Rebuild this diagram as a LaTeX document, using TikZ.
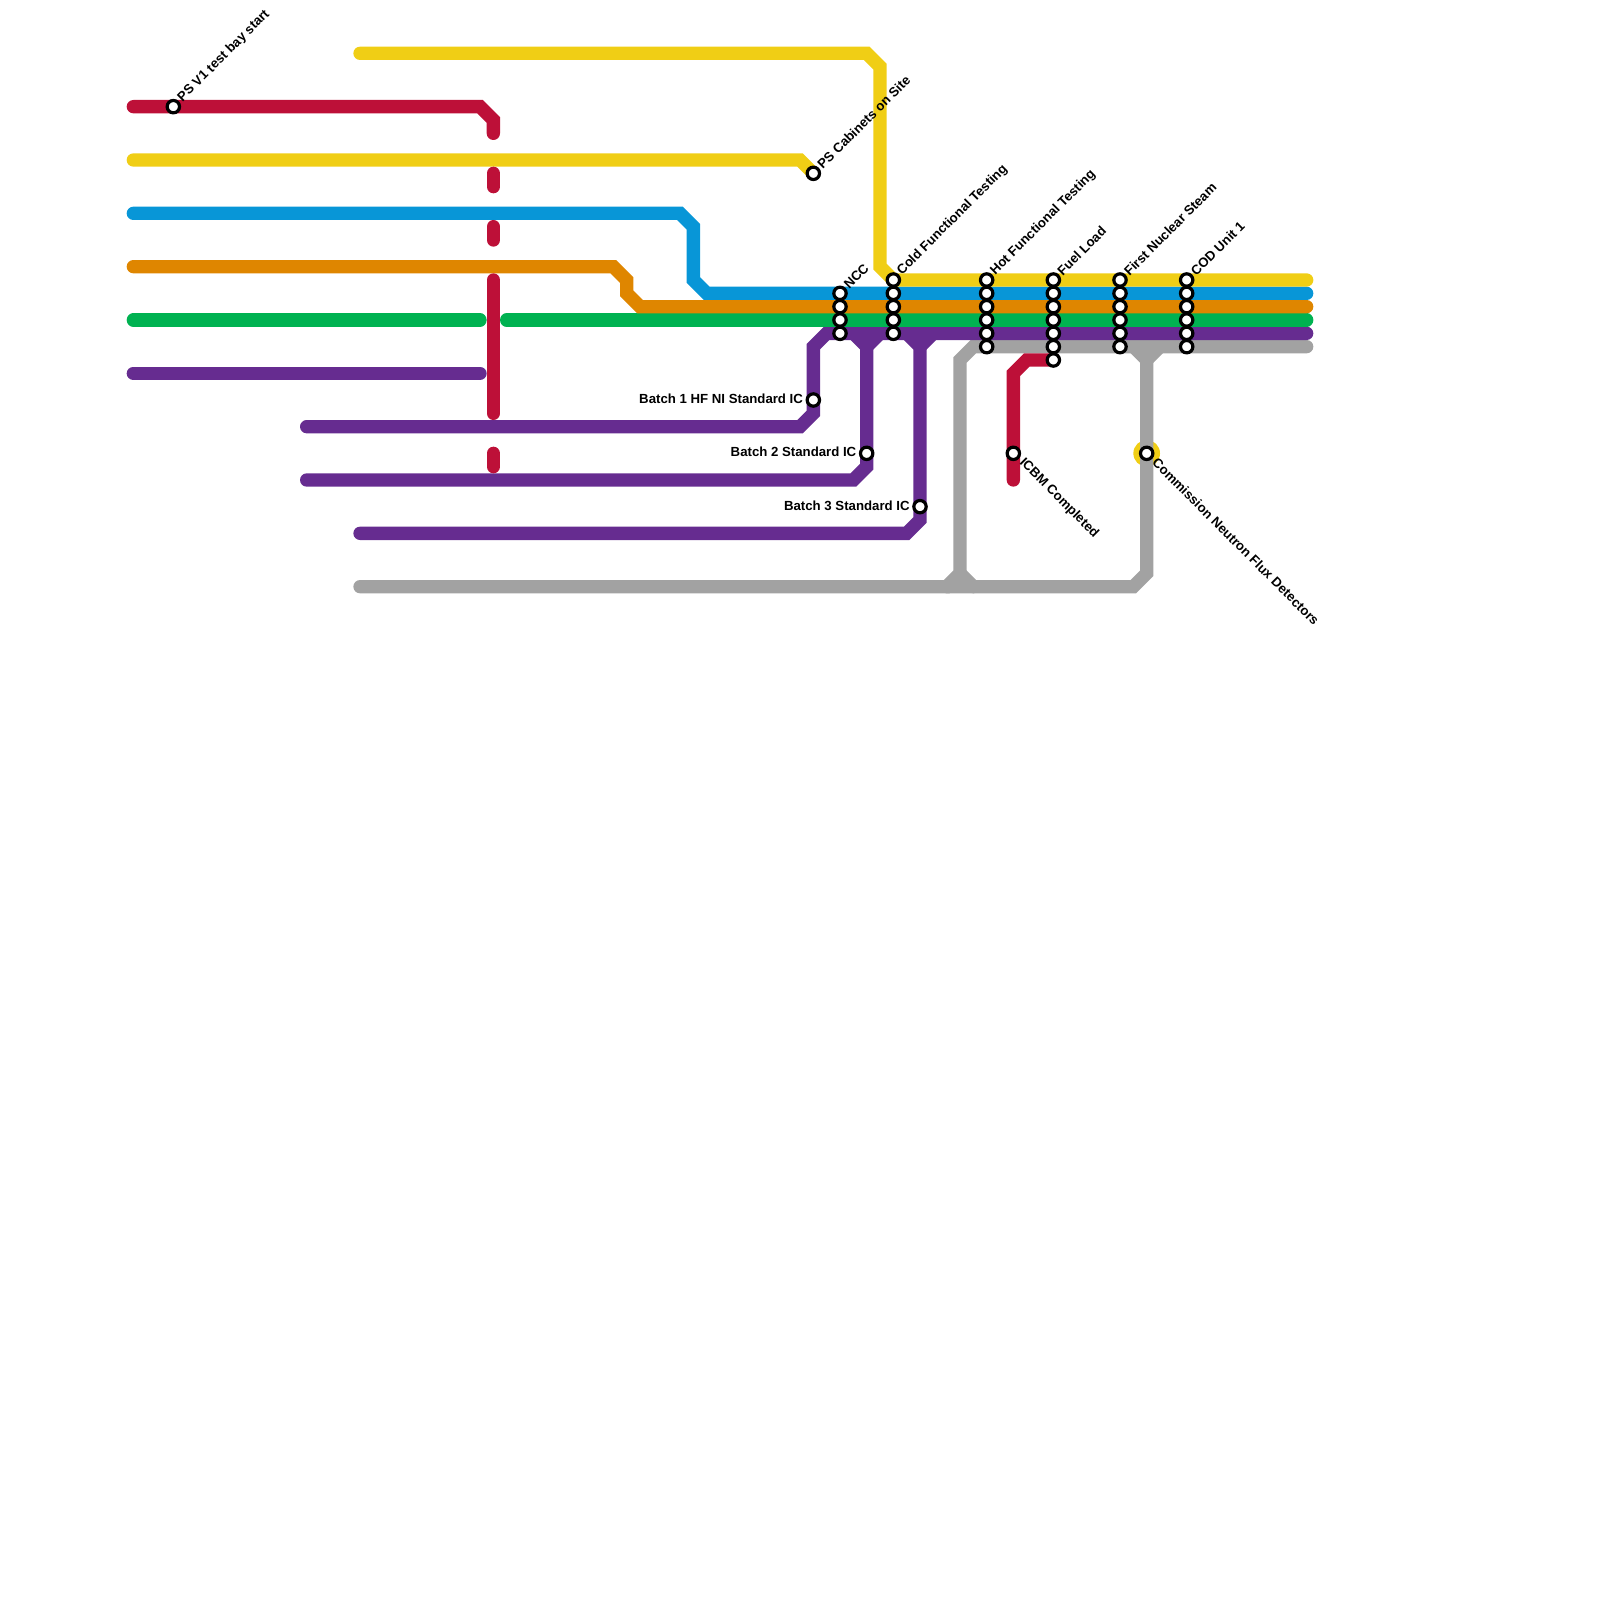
\documentclass[tikz,border=0pt]{standalone}
\usepackage{fontspec}
\setmainfont{Liberation Sans}
\usetikzlibrary{calc}
\definecolor{mred}{HTML}{BD1038}
\definecolor{myellow}{HTML}{F0CE15}
\definecolor{mblue}{HTML}{0896D7}
\definecolor{morange}{HTML}{DF8600}
\definecolor{mgreen}{HTML}{00B251}
\definecolor{mpurple}{HTML}{662C90}
\definecolor{mgray}{HTML}{A2A2A2}
\tikzset{
  route/.style={line width=0.25cm,line cap=round,line join=miter,miter limit=10},
  stn/.style={circle,draw=black,fill=white,line width=0.06cm,minimum size=0.232cm,inner sep=0pt,outer sep=0pt},
  lab/.style={font=\bfseries\fontsize{7.05}{8}\selectfont,inner sep=0pt,text=black},
  labne/.style={lab,rotate=45,anchor=west},
  labse/.style={lab,rotate=-45,anchor=west},
  labw/.style={lab,anchor=east},
}
\begin{document}
\begin{tikzpicture}[x=0.25cm,y=-0.25cm]
\useasboundingbox (0,0) rectangle (120,120);
% free ends of the routes
\coordinate (yA) at (27,4);
\coordinate (yB) at (10,12);
\coordinate (yEnd) at (98,21);
\coordinate (rA) at (10,8);
\coordinate (bA) at (10,16);
\coordinate (bEnd) at (98,22);
\coordinate (oA) at (10,20);
\coordinate (oEnd) at (98,23);
\coordinate (gA) at (10,24);
\coordinate (gB) at (36,24);
\coordinate (gC) at (38,24);
\coordinate (gEnd) at (98,24);
\coordinate (pA) at (10,28);
\coordinate (pB) at (36,28);
\coordinate (pC) at (23,32);
\coordinate (pD) at (23,36);
\coordinate (pE) at (27,40);
\coordinate (pEnd) at (98,25);
\coordinate (aA) at (27,44);
\coordinate (aEnd) at (98,26);
% stations
\foreach \n/\x/\y in {psv/13/8,psc/61/13,bat1/61/30,bat2/65/34,bat3/69/38,icbm/76/34,neut/86/34}{
  \coordinate (\n) at (\x,\y);}
\foreach \x/\n/\first/\last in {63/ncc/22/25,67/cold/21/25,74/hot/21/26,79/fuel/21/27,84/first/21/26,89/cod/21/26}{
  \foreach \y in {\first,...,\last}{\coordinate (\n\y) at (\x,\y);}}
% yellow halo on the neutron flux station
\fill[myellow] (neut) circle (1);
% grey
\draw[route,mgray] (aA) -- (71,44) -- (72,43) -- (72,27) -- (73,26) -- (aEnd);
\draw[route,mgray] (71,44) -- (85,44) -- (86,43) -- (neut) -- (86,27) -- (85,26);
\draw[route,mgray] (86,27) -- (87,26);
\draw[route,mgray] (72,43) -- (73,44);
% purple
\draw[route,mpurple] (pA) -- (pB);
\draw[route,mpurple] (pC) -- (60,32) -- (61,31) -- (bat1) -- (61,26) -- (62,25) -- (pEnd);
\draw[route,mpurple] (pD) -- (64,36) -- (65,35) -- (bat2) -- (65,26) -- (64,25);
\draw[route,mpurple] (65,26) -- (66,25);
\draw[route,mpurple] (pE) -- (68,40) -- (69,39) -- (bat3) -- (69,26) -- (68,25);
\draw[route,mpurple] (69,26) -- (70,25);
% green
\draw[route,mgreen] (gA) -- (gB);
\draw[route,mgreen] (gC) -- (gEnd);
% blue, orange, yellow
\draw[route,mblue] (bA) -- (51,16) -- (52,17) -- (52,21) -- (53,22) -- (bEnd);
\draw[route,morange] (oA) -- (46,20) -- (47,21) -- (47,22) -- (48,23) -- (oEnd);
\draw[route,myellow] (yB) -- (60,12) -- (psc);
\draw[route,myellow] (yA) -- (65,4) -- (66,5) -- (66,20) -- (67,21) -- (yEnd);
% red
\draw[route,mred] (rA) -- (36,8) -- (37,9) -- (37,10);
\draw[route,mred] (37,13) -- (37,14);
\draw[route,mred] (37,17) -- (37,18);
\draw[route,mred] (37,21) -- (37,31);
\draw[route,mred] (37,34) -- (37,35);
\draw[route,mred] (fuel27) -- (77,27) -- (76,28) -- (icbm) -- (76,36);
% station markers
\foreach \n in {psv,psc,bat1,bat2,bat3,icbm,neut}{\node[stn] (m\n) at (\n) {};}
\foreach \n/\first/\last in {ncc/22/25,cold/21/25,hot/21/26,fuel/21/27,first/21/26,cod/21/26}{
  \foreach \y in {\first,...,\last}{\node[stn] (m\n\y) at (\n\y) {};}}
% labels
\node[labne] at ($(psv)+(0.5,-0.5)$) {PS V1 test bay start};
\node[labne] at ($(psc)+(0.45,-0.5)$) {PS Cabinets on Site};
\node[labne] at ($(ncc22)+(0.45,-0.5)$) {NCC};
\node[labne] at ($(cold21)+(0.45,-0.5)$) {Cold Functional Testing};
\node[labne] at ($(hot21)+(0.45,-0.5)$) {Hot Functional Testing};
\node[labne] at ($(fuel21)+(0.45,-0.5)$) {Fuel Load};
\node[labne] at ($(first21)+(0.45,-0.5)$) {First Nuclear Steam};
\node[labne] at ($(cod21)+(0.45,-0.5)$) {COD Unit 1};
\node[labw] at ($(bat1)+(-0.75,-0.08)$) {Batch 1 HF NI Standard IC};
\node[labw] at ($(bat2)+(-0.75,-0.08)$) {Batch 2 Standard IC};
\node[labw] at ($(bat3)+(-0.75,-0.08)$) {Batch 3 Standard IC};
\node[labse] at ($(icbm)+(0.6,0.55)$) {ICBM Completed};
\node[labse] at ($(neut)+(0.6,0.52)$) {Commission Neutron Flux Detectors};
\end{tikzpicture}
\end{document}
